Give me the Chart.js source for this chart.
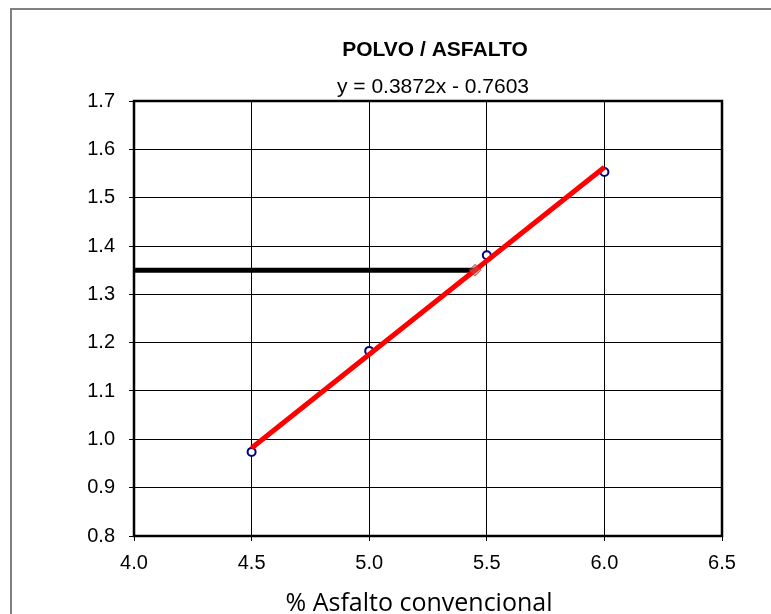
<!DOCTYPE html>
<html>
<head>
<meta charset="utf-8">
<script src="https://cdn.jsdelivr.net/npm/chart.js@4/dist/chart.umd.min.js"></script>
<style>
html,body{margin:0;padding:0;background:#fff;}
#wrap{width:771px;height:614px;position:relative;}
</style>
</head>
<body>
<div id="wrap"><canvas id="c" width="771" height="614"></canvas></div>
<script>
// ---- data ----
const chartTitle = "POLVO / ASFALTO";
const equationText = "y = 0.3872x - 0.7603";
const xAxisTitle = "% Asfalto convencional";
const asphaltPct = [4.5, 5.0, 5.5, 6.0];
const ratioValues = [0.974, 1.183, 1.381, 1.553];
const trendX = [4.5, 6.0];
const trendSlope = 0.3872;
const trendIntercept = -0.7603;
const targetRatio = 1.35;
const targetX = [4.0, 5.45];
const xTicks = [4.0, 4.5, 5.0, 5.5, 6.0, 6.5];
const yTicks = [0.8, 0.9, 1.0, 1.1, 1.2, 1.3, 1.4, 1.5, 1.6, 1.7];

const FONT = "'Liberation Sans', Arial, sans-serif";

const pointsData = asphaltPct.map((x, i) => ({x, y: ratioValues[i]}));
const trendData = trendX.map(x => ({x, y: trendSlope * x + trendIntercept}));
const hLineData = targetX.map(x => ({x, y: targetRatio}));
const markerData = [{x: targetX[1], y: targetRatio}];

const decor = {
  id: 'decor',
  beforeDraw(chart) {
    const ctx = chart.ctx;
    ctx.save();
    ctx.fillStyle = '#fff';
    ctx.fillRect(0, 0, chart.width, chart.height);
    ctx.strokeStyle = '#808080';
    ctx.lineWidth = 2;
    ctx.strokeRect(11, 9, 900, 900);
    ctx.restore();
  },
  afterDatasetsDraw(chart) {
    const ctx = chart.ctx;
    const a = chart.chartArea;
    ctx.save();
    ctx.strokeStyle = '#000';
    ctx.lineWidth = 2.5;
    ctx.strokeRect(a.left, a.top, a.right - a.left, a.bottom - a.top);
    ctx.restore();
  },
  afterDraw(chart) {
    const ctx = chart.ctx;
    const a = chart.chartArea;
    const cx = (a.left + a.right) / 2;
    ctx.save();
    ctx.fillStyle = '#000';
    ctx.textAlign = 'center';
    ctx.textBaseline = 'middle';
    ctx.font = 'bold 21px ' + FONT;
    ctx.fillText(chartTitle, cx + 7, 50);
    ctx.font = '21px ' + FONT;
    ctx.fillText(equationText, cx + 5, 87);
    ctx.textBaseline = 'alphabetic';
    ctx.font = "25px 'Open Sans', sans-serif";
    ctx.fillText(xAxisTitle, cx - 9, 611);
    ctx.restore();
  }
};

new Chart(document.getElementById('c'), {
  type: 'scatter',
  data: {
    datasets: [
      {
        label: 'marker', data: markerData, order: 0,
        pointStyle: 'rectRot', pointRadius: 6,
        backgroundColor: 'rgba(192,80,77,0.55)', borderColor: 'rgba(150,60,60,0.7)', borderWidth: 1,
        showLine: false
      },
      {
        label: 'trend', data: trendData, order: 1,
        showLine: true, borderColor: '#ff0000', borderWidth: 5, pointRadius: 0, fill: false
      },
      {
        label: 'target', data: hLineData, order: 2,
        showLine: true, borderColor: '#000', borderWidth: 5, pointRadius: 0, fill: false
      },
      {
        label: 'data', data: pointsData, order: 3,
        showLine: false, pointStyle: 'circle', pointRadius: 4,
        backgroundColor: '#fff', borderColor: '#000080', borderWidth: 2
      }
    ]
  },
  options: {
    responsive: false,
    animation: false,
    events: [],
    layout: { padding: { top: 101, right: 49, left: 0, bottom: 0 } },
    plugins: { legend: { display: false }, tooltip: { enabled: false }, title: { display: false } },
    scales: {
      x: {
        type: 'linear', min: 4.0, max: 6.5,
        afterBuildTicks(s) { s.ticks = xTicks.map(v => ({value: v})); },
        afterFit(s) { s.height = 78; },
        grid: { color: '#000', lineWidth: 1, tickLength: 5, drawTicks: true },
        border: { display: false },
        ticks: { color: '#000', font: { family: FONT, size: 20 }, padding: 10, callback: v => Number(v).toFixed(1), maxRotation: 0 },
        title: { display: false }
      },
      y: {
        type: 'linear', min: 0.8, max: 1.7,
        afterBuildTicks(s) { s.ticks = yTicks.map(v => ({value: v})); },
        afterFit(s) { s.width = 134; },
        grid: { color: '#000', lineWidth: 1, tickLength: 5, drawTicks: true },
        border: { display: false },
        ticks: { color: '#000', font: { family: FONT, size: 20 }, padding: 14, callback: v => Number(v).toFixed(1) }
      }
    }
  },
  plugins: [decor]
});
</script>
</body>
</html>
